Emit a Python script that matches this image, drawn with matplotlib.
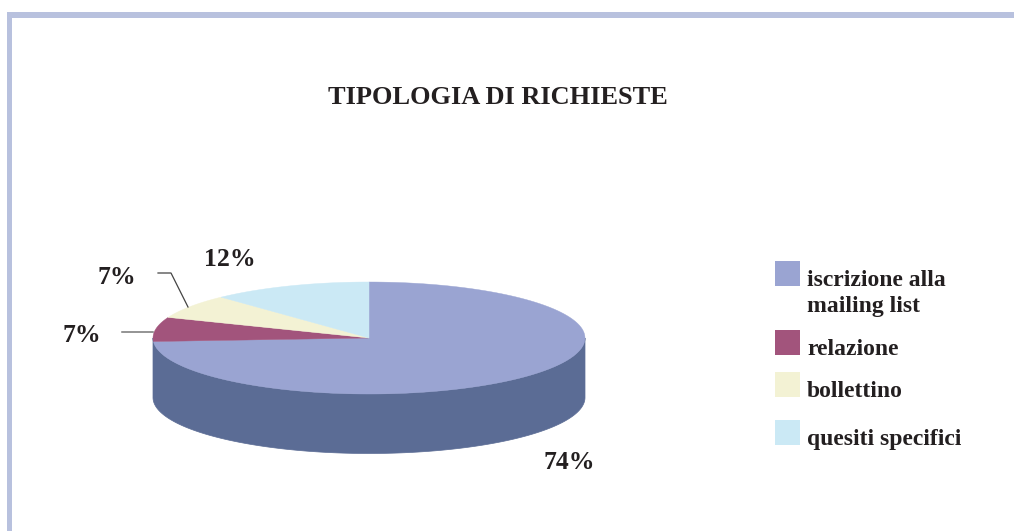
# -*- coding: utf-8 -*-
import numpy as np
import matplotlib
matplotlib.use("Agg")
import matplotlib.pyplot as plt
from matplotlib.patches import Rectangle

title = "TIPOLOGIA DI RICHIESTE"
labels = ["iscrizione alla\nmailing list", "relazione", "bollettino", "quesiti specifici"]
values = [74, 7, 7, 12]
colors = ["#9aa4d2", "#a2547c", "#f3f2d4", "#cbe9f5"]
side_color = "#5b6c95"
frame_color = "#b8c1de"
text_color = "#231f20"

plt.rcParams['font.family'] = ['Liberation Serif', 'DejaVu Serif']

fig = plt.figure(figsize=(10.14, 5.31), dpi=100)
ax = fig.add_axes([0, 0, 1, 1])
ax.set_xlim(0, 1014)
ax.set_ylim(531, 0)
ax.axis("off")

# frame, top and left only
ax.add_patch(Rectangle((7, 12), 1007, 6, color=frame_color, lw=0))
ax.add_patch(Rectangle((7, 12), 5, 519, color=frame_color, lw=0))

ax.text(498, 104, title, fontsize=19, fontweight="bold", color=text_color, ha="center", va="baseline")

# tilted pie, angles clockwise from 12 o'clock
cx, cy, a, b, depth = 369, 338, 216, 56, 59.5

def ell(t):
    return cx + a*np.sin(t), cy - b*np.cos(t)

# side wall
t = np.linspace(np.pi/2, 3*np.pi/2, 200)
x, y = ell(t)
ax.fill(np.r_[x, x[::-1]], np.r_[y, y[::-1]+depth], color=side_color, lw=0.5)

# top slices
edges = np.cumsum([0] + values) / 100 * 2*np.pi
for i in range(len(values)):
    t = np.linspace(edges[i], edges[i+1], 150)
    x, y = ell(t)
    ax.fill(np.r_[cx, x], np.r_[cy, y], color=colors[i], lw=0.3)

# leader lines
ax.plot([122, 153], [332, 332], color="#777777", lw=1.1)
ax.plot([158, 171, 188], [273, 273, 307], color="#444444", lw=0.9)

# value labels, same order as values
label_pos = [(569, 469), (82, 342), (117, 284), (230, 266)]
for v, (px, py) in zip(values, label_pos):
    ax.text(px, py, "%d%%" % v, fontsize=18.5, fontweight="bold", color=text_color, ha="center", va="baseline")

# legend
box_y = [261, 330, 372, 420]
text_y = [286, 355, 397, 445]
for lab, c, by, ty in zip(labels, colors, box_y, text_y):
    ax.add_patch(Rectangle((775, by), 25, 25, color=c, lw=0))
    ax.text(807, ty, lab.split("\n")[0], fontsize=17, fontweight="bold", color=text_color, va="baseline")
    if "\n" in lab:
        ax.text(807, ty+26, lab.split("\n")[1], fontsize=17, fontweight="bold", color=text_color, va="baseline")

fig.savefig("out.png", dpi=100)
